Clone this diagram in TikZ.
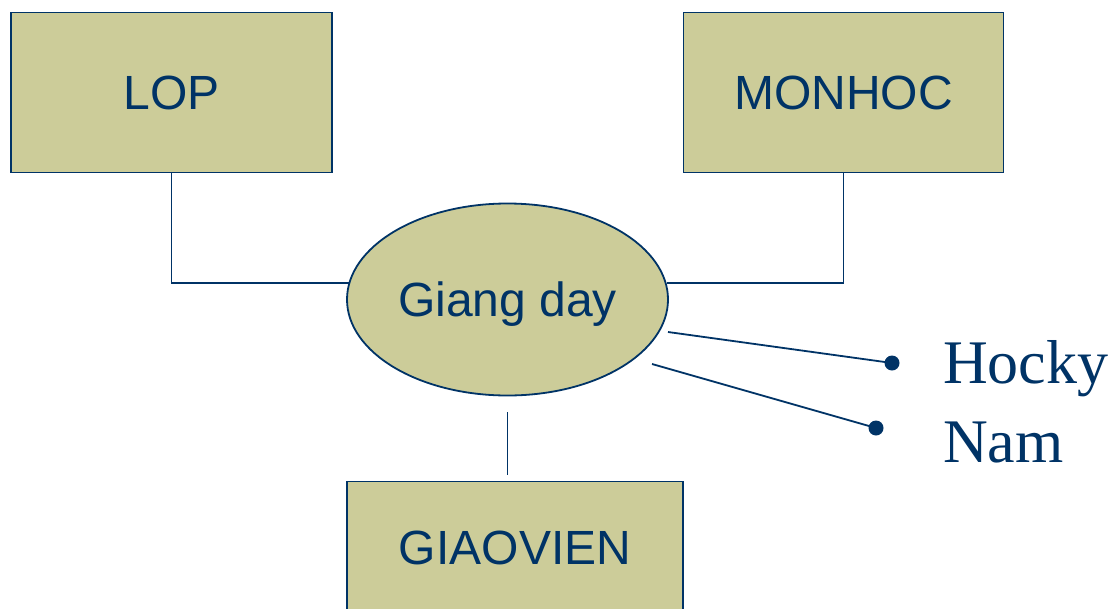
\documentclass[tikz,border=0pt]{standalone}
\usepackage{fontspec}
\setmainfont{Liberation Serif}
\setsansfont{Liberation Sans}
\usetikzlibrary{shapes.geometric,calc}
\definecolor{olivefill}{RGB}{204,204,153}
\definecolor{navy}{RGB}{0,51,102}
\tikzset{
  entity/.style={draw=navy, line width=1.8pt, fill=olivefill, rectangle, inner sep=0pt,
    font=\sffamily\fontsize{48}{48}\selectfont, text=navy, text height=34.4pt, text depth=0pt},
  relation/.style={draw=navy, line width=1.8pt, fill=olivefill, ellipse, inner sep=0pt,
    minimum width=321pt, minimum height=192pt, font=\sffamily\fontsize{48}{48}\selectfont, text=navy,
    text height=34.4pt, text depth=0pt},
  link/.style={draw=navy, line width=1.8pt},
  dotnode/.style={circle, fill=navy, inner sep=0pt, minimum size=15pt},
  attr/.style={font=\rmfamily\fontsize{62}{62}\selectfont, text=navy, inner sep=0pt, anchor=base west}
}
\begin{document}
\begin{tikzpicture}[x=1pt,y=-1pt]
\useasboundingbox (0,0) rectangle (1116,608);
\clip (0,0) rectangle (1116,608);
\node[entity, minimum width=321pt, minimum height=160pt] (lop) at (171.5,92.5) {LOP};
\node[entity, minimum width=320pt, minimum height=160pt] (mon) at (843.5,92.5) {MONHOC};
\node[relation] (gd) at (507.5,299.5) {Giang day};
\node[entity, minimum width=336pt, minimum height=132pt] (gv) at (515,547.5) {GIAOVIEN};
\coordinate (h1) at (668,332);
\coordinate (n1) at (652,364);
\coordinate (le) at (348.5,283);
\coordinate (re) at (666.5,283);
\node[dotnode] (hb) at (892,363) {};
\node[dotnode] (nb) at (876,428) {};
\node[attr] (hocky) at (943,383) {Hocky};
\node[attr] (nam) at (943,462) {Nam};
\coordinate (vtop) at (507.5,412);
\coordinate (vbot) at (507.5,475);
\draw[link] (lop.south) |- (le);
\draw[link] (mon.south) |- (re);
\draw[link] (h1) -- (hb.center);
\draw[link] (n1) -- (nb.center);
\draw[link] (vtop) -- (vbot);
\end{tikzpicture}
\end{document}
